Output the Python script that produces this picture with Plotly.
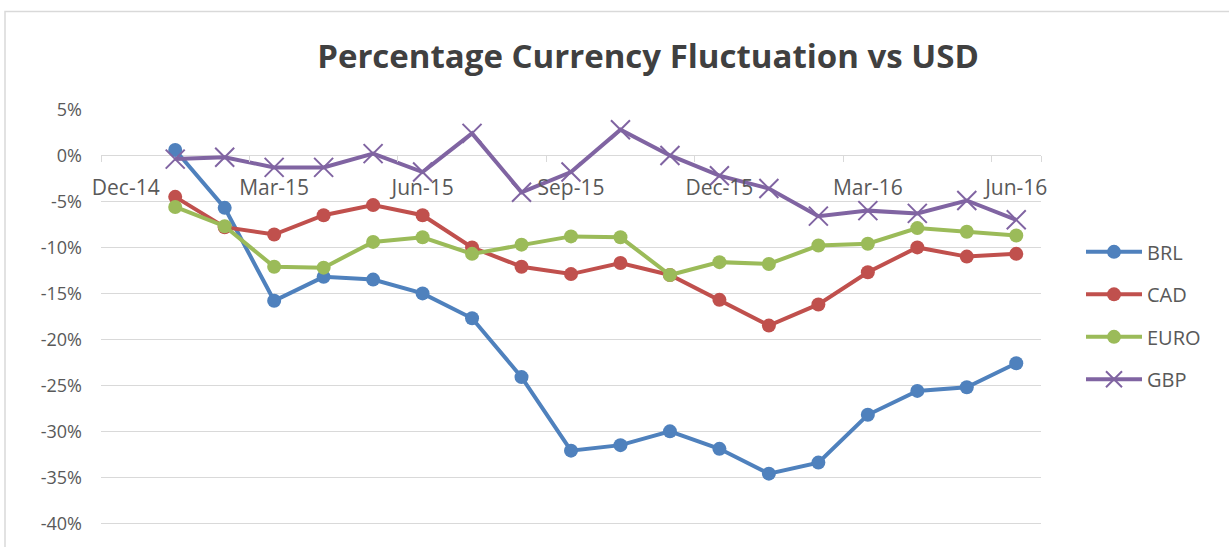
import plotly.graph_objects as go

months = ["Jan-15", "Feb-15", "Mar-15", "Apr-15", "May-15", "Jun-15", "Jul-15", "Aug-15", "Sep-15",
          "Oct-15", "Nov-15", "Dec-15", "Jan-16", "Feb-16", "Mar-16", "Apr-16", "May-16", "Jun-16"]
brl = [0.6, -5.7, -15.8, -13.2, -13.5, -15.0, -17.7, -24.1, -32.1, -31.5, -30.0, -31.9, -34.6, -33.4, -28.2, -25.6, -25.2, -22.6]
cad = [-4.5, -7.8, -8.6, -6.5, -5.4, -6.5, -10.0, -12.1, -12.9, -11.7, -13.0, -15.7, -18.5, -16.2, -12.7, -10.0, -11.0, -10.7]
euro = [-5.6, -7.7, -12.1, -12.2, -9.4, -8.9, -10.7, -9.7, -8.8, -8.9, -13.0, -11.6, -11.8, -9.8, -9.6, -7.9, -8.3, -8.7]
gbp = [-0.4, -0.2, -1.3, -1.3, 0.2, -1.8, 2.4, -4.0, -1.8, 2.8, 0.0, -2.2, -3.6, -6.6, -6.0, -6.3, -4.9, -7.0]

x_tick_labels = ["Dec-14", "Mar-15", "Jun-15", "Sep-15", "Dec-15", "Mar-16", "Jun-16"]
y_tick_values = [5, 0, -5, -10, -15, -20, -25, -30, -35, -40]
y_tick_labels = ["5%", "0%", "-5%", "-10%", "-15%", "-20%", "-25%", "-30%", "-35%", "-40%"]

series = [("BRL", brl, "#4F81BD"), ("CAD", cad, "#C0504D"), ("EURO", euro, "#9BBB59"), ("GBP", gbp, "#8064A2")]

# month index: Dec-14 = 0, Jan-15 = 1, ...
xpos = list(range(1, len(months) + 1))
xtickpos = [3 * i for i in range(len(x_tick_labels))]

fig = go.Figure()
for name, vals, color in series:
    if name == "GBP":
        marker = dict(symbol="x-thin", size=19, color=color, line=dict(width=2, color=color))
    else:
        marker = dict(symbol="circle", size=14, color=color)
    fig.add_trace(go.Scatter(
        x=xpos, y=vals, name=name, mode="lines+markers",
        line=dict(color=color, width=4), marker=marker,
        legendgroup=name, customdata=months,
        hovertemplate="%{customdata}: %{y:.1f}%<extra>" + name + "</extra>",
    ))

font_family = "Open Sans, Liberation Sans, sans-serif"
text_color = "#595959"

PX_PER_UNIT = 9.207
Y_LO, Y_HI = -40.4, 5.05
L, PW = 101, 940
T = 109 - (Y_HI - 5) * PX_PER_UNIT
PH = (Y_HI - Y_LO) * PX_PER_UNIT
W, H = 1229, 547

fig.update_layout(
    width=W, height=H,
    margin=dict(l=L, r=W - L - PW, t=T, b=H - T - PH),
    paper_bgcolor="white", plot_bgcolor="white",
    font=dict(family=font_family, color=text_color, size=18),
    title=dict(text="<b>Percentage Currency Fluctuation vs USD</b>",
               x=648 / W, xanchor="center", y=1 - 56 / H, yanchor="middle",
               font=dict(size=33, color="#404040", family=font_family)),
    xaxis=dict(
        range=[-0.5, 18.5], tickmode="array", tickvals=xtickpos, ticktext=x_tick_labels,
        showgrid=False, zeroline=False, showline=False,
        anchor="free", position=(0 - Y_LO) / (Y_HI - Y_LO),
        ticks="outside", ticklen=0, ticklabelstandoff=13,
        tickfont=dict(size=21, color=text_color),
        minor=dict(tickmode="array", tickvals=[v - 0.5 for v in xtickpos] + [18.5],
                   ticks="outside", ticklen=6, tickcolor="#d9d9d9", tickwidth=1, showgrid=False),
    ),
    yaxis=dict(
        range=[Y_LO, Y_HI], tickmode="array", tickvals=y_tick_values, ticktext=y_tick_labels,
        showgrid=True, gridcolor="#d9d9d9", gridwidth=1, zeroline=False, showline=False,
        ticks="", ticklabelstandoff=18, tickfont=dict(size=18, color=text_color),
    ),
    legend=dict(x=(1081 - L) / PW, xanchor="left", y=1 - (232 - T) / PH, yanchor="top",
                font=dict(size=20, color=text_color), tracegroupgap=13.5,
                itemwidth=56, bgcolor="rgba(0,0,0,0)"),
    showlegend=True,
    shapes=[dict(type="rect", xref="paper", yref="paper",
                 x0=(5 - L) / PW, x1=1.3, y0=-0.2, y1=(PH + T - 11) / PH,
                 line=dict(color="#d9d9d9", width=1.5), fillcolor="rgba(0,0,0,0)", layer="below")],
)

fig.write_html("out.html", config={"displayModeBar": False},
               post_script="document.body.style.margin='0';")
